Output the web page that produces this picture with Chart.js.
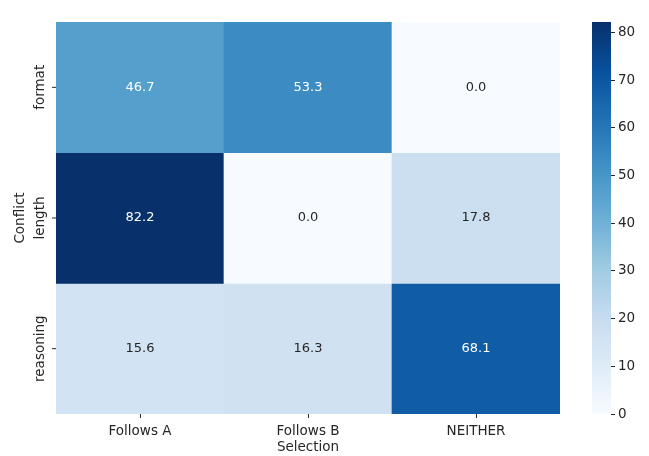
<!DOCTYPE html>
<html>
<head>
<meta charset="utf-8">
<script src="https://cdn.jsdelivr.net/npm/chart.js@4"></script>
<style>
  html, body { margin: 0; padding: 0; background: #fff; }
  #wrap { position: relative; width: 649px; height: 456px; }
  canvas { position: absolute; left: 0; top: 0; }
</style>
</head>
<body>
<div id="wrap">
  <canvas id="heat" width="649" height="456"></canvas>
  <canvas id="bar" width="649" height="456"></canvas>
</div>
<script>
// data
const rows = ['format', 'length', 'reasoning'];
const cols = ['Follows A', 'Follows B', 'NEITHER'];
const formatVals = [46.7, 53.3, 0.0];
const lengthVals = [82.2, 0.0, 17.8];
const reasoningVals = [15.6, 16.3, 68.1];
const cbTicks = [0, 10, 20, 30, 40, 50, 60, 70, 80];
const vmin = 0, vmax = 82.2;

const table = [formatVals, lengthVals, reasoningVals];
const FONT = 'DejaVu Sans';
const INK = '#262626';

// matplotlib "Blues" anchors
const blues = ['#f7fbff', '#deebf7', '#c6dbef', '#9ecae1', '#6baed6', '#4292c6', '#2171b5', '#08519c', '#08306b'];

function hex2rgb(h) {
  return [parseInt(h.substr(1, 2), 16), parseInt(h.substr(3, 2), 16), parseInt(h.substr(5, 2), 16)];
}
function bluesAt(t) {
  t = Math.max(0, Math.min(1, t));
  const p = t * (blues.length - 1);
  const i = Math.min(Math.floor(p), blues.length - 2);
  const f = p - i;
  const a = hex2rgb(blues[i]), b = hex2rgb(blues[i + 1]);
  return a.map((v, k) => Math.round(v + (b[k] - v) * f));
}
function colorFor(v) {
  const c = bluesAt((v - vmin) / (vmax - vmin));
  return 'rgb(' + c.join(',') + ')';
}
function isDark(v) {
  const c = bluesAt((v - vmin) / (vmax - vmin)).map(x => {
    x = x / 255;
    return x <= 0.03928 ? x / 12.92 : Math.pow((x + 0.055) / 1.055, 2.4);
  });
  return 0.2126 * c[0] + 0.7152 * c[1] + 0.0722 * c[2] < 0.408;
}

const cellLabels = {
  id: 'cellLabels',
  afterDatasetsDraw(chart) {
    const ctx = chart.ctx;
    ctx.save();
    ctx.font = '13px "' + FONT + '"';
    ctx.textAlign = 'center';
    ctx.textBaseline = 'middle';
    chart.data.datasets.forEach((ds, i) => {
      chart.getDatasetMeta(i).data.forEach((el, j) => {
        const p = el.getProps(['x', 'y', 'base'], true);
        const v = table[i][j];
        ctx.fillStyle = isDark(v) ? '#ffffff' : INK;
        ctx.fillText(v.toFixed(1), p.x, (p.y + p.base) / 2);
      });
    });
    // row tick labels and the y title
    const ys = chart.scales.y, area = chart.chartArea;
    ctx.font = '13.5px "' + FONT + '"';
    ctx.strokeStyle = INK;
    ctx.lineWidth = 1;
    rows.forEach((r, i) => {
      const y = ys.getPixelForValue(i + 0.5);
      ctx.beginPath();
      ctx.moveTo(area.left - 4, y);
      ctx.lineTo(area.left, y);
      ctx.stroke();
      ctx.save();
      ctx.translate(area.left - 16, y);
      ctx.rotate(-Math.PI / 2);
      ctx.fillStyle = INK;
      ctx.fillText(r, 0, 0);
      ctx.restore();
    });
    ctx.save();
    ctx.translate(20, (area.top + area.bottom) / 2);
    ctx.rotate(-Math.PI / 2);
    ctx.fillStyle = INK;
    ctx.fillText('Conflict', 0, 0);
    ctx.restore();
    ctx.restore();
  }
};

new Chart(document.getElementById('heat'), {
  type: 'bar',
  data: {
    labels: cols,
    datasets: rows.map((r, i) => ({
      label: r,
      data: cols.map(() => [i, i + 1]),
      backgroundColor: table[i].map(colorFor),
      borderWidth: 0,
      barPercentage: 1,
      categoryPercentage: 1,
      grouped: false
    }))
  },
  options: {
    responsive: false,
    animation: false,
    devicePixelRatio: 1,
    layout: { padding: { left: 0, top: 22, right: 89, bottom: 0 } },
    plugins: { legend: { display: false }, tooltip: { enabled: false } },
    scales: {
      x: {
        type: 'category',
        offset: true,
        grid: { display: true, offset: false, drawOnChartArea: false, tickLength: 4, color: INK },
        border: { display: false },
        ticks: { color: INK, font: { family: FONT, size: 13.5 }, padding: 5, maxRotation: 0 },
        title: { display: true, text: 'Selection', color: INK, font: { family: FONT, size: 13.5 }, padding: { top: 0, bottom: 0 } },
        afterFit(s) { s.height = 42; }
      },
      y: {
        type: 'linear',
        min: 0,
        max: 3,
        reverse: true,
        grid: { display: false },
        border: { display: false },
        ticks: { display: false },
        afterFit(s) { s.width = 56; }
      }
    }
  },
  plugins: [cellLabels]
});

// colour bar
new Chart(document.getElementById('bar'), {
  type: 'bar',
  data: {
    labels: ['cb'],
    datasets: [{
      data: [[vmin, vmax]],
      borderWidth: 0,
      barPercentage: 1,
      categoryPercentage: 1,
      backgroundColor(ctx) {
        const a = ctx.chart.chartArea;
        if (!a) return blues[4];
        const g = ctx.chart.ctx.createLinearGradient(0, a.bottom, 0, a.top);
        blues.forEach((c, k) => g.addColorStop(k / (blues.length - 1), c));
        return g;
      }
    }]
  },
  options: {
    responsive: false,
    animation: false,
    devicePixelRatio: 1,
    layout: { padding: { left: 592, top: 22, right: 0, bottom: 42 } },
    plugins: { legend: { display: false }, tooltip: { enabled: false } },
    scales: {
      x: { display: false },
      y: {
        position: 'right',
        min: vmin,
        max: vmax,
        afterBuildTicks(s) { s.ticks = cbTicks.map(v => ({ value: v })); },
        grid: { drawOnChartArea: false, tickLength: 4, color: INK },
        border: { display: false },
        ticks: { color: INK, font: { family: FONT, size: 13.5 }, padding: 3 },
        afterFit(s) { s.width = 38; }
      }
    }
  }
});
</script>
</body>
</html>
